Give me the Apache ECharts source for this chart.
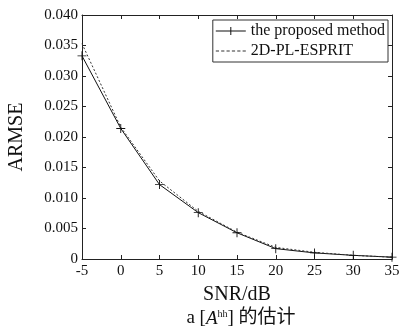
<!DOCTYPE html>
<html>
<head>
<meta charset="utf-8">
<script src="https://cdn.jsdelivr.net/npm/echarts@6/dist/echarts.min.js"></script>
<style>
  html, body { margin: 0; padding: 0; background: #fff; }
  #chart { width: 401px; height: 329px; }
</style>
</head>
<body>
<div id="chart"></div>
<script>
// SNR 横轴
var snr = [-5, 0, 5, 10, 15, 20, 25, 30, 35]
// 两条曲线的 ARMSE
var proposed = [0.0333, 0.0214, 0.0122, 0.0076, 0.0043, 0.0017, 0.0010, 0.0006, 0.0003]
var esprit = [0.0353, 0.0216, 0.0128, 0.0078, 0.0044, 0.0019, 0.0011, 0.0006, 0.0003]
var seriesNames = ['the proposed method', '2D-PL-ESPRIT']

var chart = echarts.init(document.getElementById('chart'))
var serif = 'Liberation Serif'
var plus = 'path://M0,4.5h10v1h-10z M4.5,0h1v10h-1z'

function pairs (ys) {
  return snr.map(function (x, i) { return [x, ys[i]] })
}

var axisCommon = {
  axisLine: { show: true, onZero: false, lineStyle: { color: '#222', width: 1 } },
  axisTick: { show: true, inside: true, length: 4, lineStyle: { color: '#222' } },
  splitLine: { show: false }
}

var option = {
  animation: false,
  backgroundColor: '#fff',
  textStyle: { fontFamily: serif },
  title: {
    text: '{a|a [}{i|A}{s|hh}{a|] 的估计}',
    left: 236,
    textAlign: 'center',
    top: 304,
    textStyle: {
      fontWeight: 'normal',
      rich: {
        a: { fontFamily: serif + ', Noto Sans CJK SC', fontSize: 19, fontWeight: 'normal', color: '#111' },
        i: { fontFamily: serif, fontStyle: 'italic', fontSize: 19, fontWeight: 'normal', color: '#111' },
        s: { fontFamily: serif, fontSize: 10, fontWeight: 'normal', color: '#111', verticalAlign: 'top', padding: [0, 0, 9, 0] }
      }
    }
  },
  legend: {
    data: [
      { name: seriesNames[0], icon: 'path://M0,4.5h30v1h-30z M14.5,1h1v8h-1z' },
      { name: seriesNames[1], icon: 'path://M0,4.5h3v1h-3z M5,4.5h3v1h-3z M10,4.5h3v1h-3z M15,4.5h3v1h-3z M20,4.5h3v1h-3z M25,4.5h3v1h-3z' }
    ],
    orient: 'vertical',
    right: 13,
    top: 20,
    itemWidth: 30,
    itemHeight: 10,
    itemGap: 4,
    padding: [3, 3, 3, 3],
    borderColor: '#333',
    borderWidth: 1,
    borderRadius: 0,
    textStyle: { fontFamily: serif, fontSize: 16, color: '#111' }
  },
  grid: { left: 82, right: 9, top: 15, bottom: 70, outerBoundsMode: 'none' },
  xAxis: [
    Object.assign({}, axisCommon, {
      type: 'value',
      min: -5,
      max: 35,
      interval: 5,
      position: 'bottom',
      name: 'SNR/dB',
      nameLocation: 'middle',
      nameGap: 26,
      nameTextStyle: { fontFamily: serif, fontSize: 20, color: '#111' },
      axisLabel: { fontFamily: serif, fontSize: 15, color: '#111', margin: 5 }
    }),
    Object.assign({}, axisCommon, {
      type: 'value',
      min: -5,
      max: 35,
      interval: 5,
      position: 'top',
      axisLabel: { show: false }
    })
  ],
  yAxis: [
    Object.assign({}, axisCommon, {
      type: 'value',
      min: 0,
      max: 0.04,
      interval: 0.005,
      position: 'left',
      name: 'ARMSE',
      nameLocation: 'middle',
      nameGap: 55,
      nameTextStyle: { fontFamily: serif, fontSize: 20, color: '#111' },
      axisLabel: {
        fontFamily: serif,
        fontSize: 15,
        color: '#111',
        margin: 4,
        formatter: function (v) { return v === 0 ? '0' : v.toFixed(3) }
      }
    }),
    Object.assign({}, axisCommon, {
      type: 'value',
      min: 0,
      max: 0.04,
      interval: 0.005,
      position: 'right',
      axisLabel: { show: false }
    })
  ],
  series: [
    {
      name: seriesNames[0],
      type: 'line',
      data: pairs(proposed),
      symbol: plus,
      symbolSize: 9,
      showAllSymbol: true,
      itemStyle: { color: '#111' },
      lineStyle: { color: '#111', width: 1 }
    },
    {
      name: seriesNames[1],
      type: 'line',
      data: pairs(esprit),
      symbol: 'none',
      itemStyle: { color: '#333' },
      lineStyle: { color: '#333', width: 1, type: [2, 2] }
    }
  ]
}

chart.setOption(option)
</script>
</body>
</html>
